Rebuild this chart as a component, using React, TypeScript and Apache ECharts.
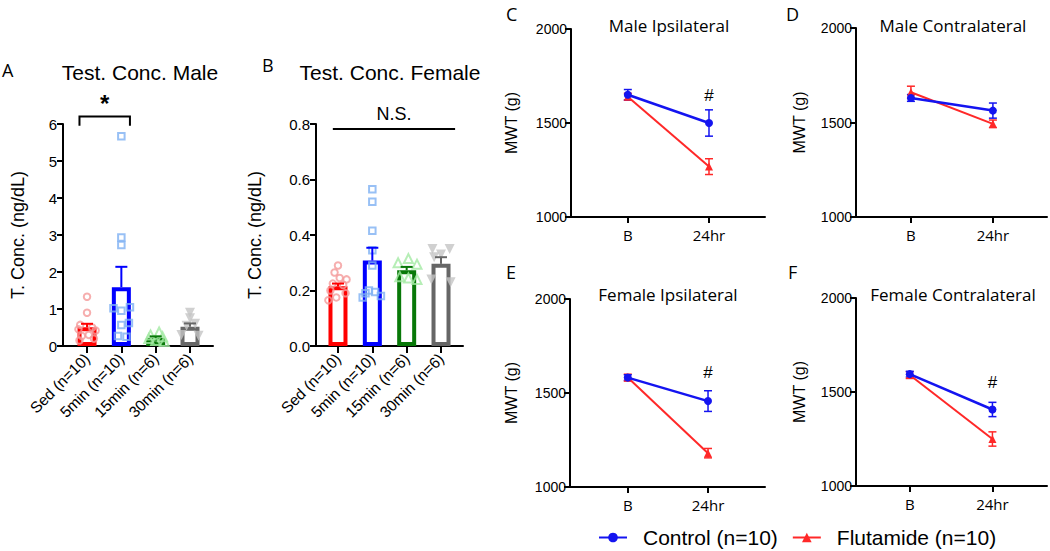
import React, { useEffect, useRef } from "react";
import * as echarts from "echarts";

// ---------- data: testosterone concentration ----------
const groups = ["Sed (n=10)", "5min (n=10)", "15min (n=6)", "30min (n=6)"];
const maleMeans = [0.51, 1.59, 0.22, 0.52];
const maleSem = [0.09, 0.55, 0.04, 0.09];
const femaleMeans = [0.215, 0.308, 0.273, 0.296];
const femaleSem = [0.01, 0.046, 0.012, 0.024];

const maleSed = [1.33, 0.9, 0.57, 0.5, 0.45, 0.42, 0.3, 0.27, 0.2, 0.15];
const male5 = [5.67, 2.93, 2.73, 1.05, 1.02, 0.95, 0.62, 0.57, 0.27, 0.25];
const male15 = [0.38, 0.3, 0.25, 0.2, 0.15, 0.12];
const male30 = [0.9, 0.75, 0.6, 0.55, 0.3, 0.28];
const femaleSed = [0.29, 0.265, 0.245, 0.24, 0.225, 0.22, 0.2, 0.19, 0.175, 0.165];
const female5 = [0.565, 0.52, 0.415, 0.345, 0.29, 0.2, 0.195, 0.19, 0.18, 0.175];
const female15 = [0.315, 0.3, 0.295, 0.25, 0.245, 0.24];
const female30 = [0.35, 0.35, 0.33, 0.32, 0.24, 0.23];

// horizontal scatter (jitter) of the individual points, in category units
const jitter10a = [0, 0, -0.2, 0.15, -0.25, 0.25, 0.05, -0.15, 0.2, -0.22];
const jitter10b = [0, 0, 0, 0.25, -0.23, 0, 0.22, 0, -0.1, 0.15];
const jitter6a = [0.1, -0.15, 0.2, -0.2, 0, 0.25];
const jitter6b = [0, 0, 0.15, -0.1, -0.25, 0.25];
const jitterF10a = [0, -0.1, 0.05, 0.25, -0.15, 0.15, -0.22, 0.22, -0.05, -0.28];
const jitterF10b = [0, 0, 0, 0, 0, -0.1, 0.08, -0.2, 0.25, -0.28];
const jitterF6a = [0.05, -0.25, 0.3, -0.2, 0.05, 0.3];
const jitterF6b = [-0.25, 0.25, 0, -0.2, -0.28, 0.28];

// ---------- data: MWT ----------
const timepoints = ["B", "24hr"];
const maleIpsiCtrl = [1650, 1500];
const maleIpsiCtrlSem = [28, 70];
const maleIpsiFlut = [1640, 1268];
const maleIpsiFlutSem = [18, 42];
const maleContraCtrl = [1630, 1563];
const maleContraCtrlSem = [18, 40];
const maleContraFlut = [1660, 1493];
const maleContraFlutSem = [32, 20];
const femIpsiCtrl = [1582, 1457];
const femIpsiCtrlSem = [15, 55];
const femIpsiFlut = [1582, 1180];
const femIpsiFlutSem = [18, 25];
const femContraCtrl = [1595, 1407];
const femContraCtrlSem = [15, 38];
const femContraFlut = [1590, 1250];
const femContraFlutSem = [18, 38];

const barColors = ["#ff0000", "#0000ff", "#087808", "#666666"];
const ptColors = ["#f49a9a", "#7eb0f2", "#a4eaa4", "#c4c4c4"];
const CTRL = "Control (n=10)";
const FLUT = "Flutamide (n=10)";
const ctrlColor = "#1414f0";
const flutColor = "#ff2828";

const FONT = "Liberation Sans, Arial, sans-serif";
const FONT2 = "Open Sans, Noto Sans, sans-serif";

function App() {
  const ref = useRef<HTMLDivElement>(null);

  useEffect(() => {
    if (!ref.current) return;
    const chart = echarts.init(ref.current, null, { renderer: "svg" });

    const grids: any[] = [];
    const xAxes: any[] = [];
    const yAxes: any[] = [];
    const series: any[] = [];

    const axisLine = { show: true, onZero: false, lineStyle: { color: "#000", width: 2 } };

    function barPanel(
      idx: number,
      grid: any,
      xMin: number,
      xMax: number,
      yMax: number,
      yInt: number,
      yFmt: (v: number) => string,
      yNameGap: number,
      means: number[],
      sems: number[],
      pts: number[][],
      jit: number[][]
    ) {
      grids.push(grid);
      xAxes.push({
        gridIndex: idx,
        type: "value",
        min: xMin,
        max: xMax,
        axisLine,
        splitLine: { show: false },
        axisTick: { show: true, customValues: [0, 1, 2, 3], length: 7, lineStyle: { color: "#000", width: 2 } },
        axisLabel: {
          customValues: [0, 1, 2, 3],
          formatter: (v: number) => groups[Math.round(v)],
          rotate: 45,
          fontSize: 15.5,
          color: "#000",
          fontFamily: FONT,
          margin: 10,
        },
      });
      yAxes.push({
        gridIndex: idx,
        type: "value",
        min: 0,
        max: yMax,
        interval: yInt,
        name: "T. Conc. (ng/dL)",
        nameLocation: "middle",
        nameGap: yNameGap,
        nameTextStyle: { fontSize: 18, color: "#000", fontFamily: FONT },
        axisLine,
        splitLine: { show: false },
        axisTick: { show: true, length: 6, lineStyle: { color: "#000", width: 2 } },
        axisLabel: { formatter: yFmt, fontSize: 15, color: "#000", fontFamily: FONT, margin: 6 },
      });
      series.push({
        type: "bar",
        xAxisIndex: idx,
        yAxisIndex: idx,
        barWidth: 19,
        z: 2,
        silent: true,
        data: means.map((m, i) => ({
          value: [i, m],
          itemStyle: { color: "rgba(255,255,255,0)", borderColor: barColors[i], borderWidth: 4 },
        })),
      });
      const symbols = ["circle", "rect", "triangle", "triangle"];
      const sizes = [6.5, 6.5, 9, 10];
      pts.forEach((arr, g) => {
        series.push({
          type: "scatter",
          xAxisIndex: idx,
          yAxisIndex: idx,
          symbol: symbols[g],
          symbolSize: sizes[g],
          symbolRotate: g === 3 ? 180 : 0,
          z: 3,
          silent: true,
          itemStyle:
            g === 3
              ? { color: ptColors[g] }
              : { color: "rgba(255,255,255,0)", borderColor: ptColors[g], borderWidth: 2 },
          data: arr.map((v, k) => [g + jit[g][k], v]),
        });
      });
      series.push({
        type: "custom",
        xAxisIndex: idx,
        yAxisIndex: idx,
        z: 4,
        silent: true,
        renderItem: (params: any, api: any) => {
          const x = api.value(0);
          const p0 = api.coord([x, api.value(1)]);
          const p1 = api.coord([x, api.value(2)]);
          const c = barColors[params.dataIndex];
          return {
            type: "group",
            children: [
              { type: "line", shape: { x1: p0[0], y1: p0[1], x2: p1[0], y2: p1[1] }, style: { stroke: c, lineWidth: 2 } },
              { type: "line", shape: { x1: p1[0] - 6, y1: p1[1], x2: p1[0] + 6, y2: p1[1] }, style: { stroke: c, lineWidth: 2 } },
            ],
          };
        },
        data: means.map((m, i) => [i, m, m + sems[i]]),
      });
    }

    barPanel(
      0,
      { left: 63, top: 124, width: 150, height: 222 },
      -0.7,
      3.67,
      6,
      1,
      (v) => String(v),
      36,
      maleMeans,
      maleSem,
      [maleSed, male5, male15, male30],
      [jitter10a, jitter10b, jitter6a, jitter6b]
    );
    barPanel(
      1,
      { left: 316, top: 124, width: 147, height: 222 },
      -0.64,
      3.64,
      0.8,
      0.2,
      (v) => v.toFixed(1),
      52,
      femaleMeans,
      femaleSem,
      [femaleSed, female5, female15, female30],
      [jitterF10a, jitterF10b, jitterF6a, jitterF6b]
    );

    // significance annotations
    series.push({
      type: "custom",
      xAxisIndex: 0,
      yAxisIndex: 0,
      silent: true,
      renderItem: (params: any, api: any) => {
        const a = api.coord([api.value(0), api.value(2)]);
        const b = api.coord([api.value(1), api.value(2)]);
        const d = api.coord([api.value(0), api.value(3)]);
        const t = api.coord([(api.value(0) + api.value(1)) / 2, api.value(4)]);
        return {
          type: "group",
          children: [
            {
              type: "polyline",
              shape: { points: [[a[0], d[1]], a, b, [b[0], d[1]]] },
              style: { stroke: "#000", lineWidth: 2, fill: "none" },
            },
            {
              type: "text",
              style: { text: "*", x: t[0], y: t[1], align: "center", verticalAlign: "middle", fontSize: 24, fontWeight: "bold", fill: "#000", fontFamily: FONT },
            },
          ],
        };
      },
      data: [[-0.22, 1.25, 6.2, 5.95, 6.55]],
    });
    series.push({
      type: "custom",
      xAxisIndex: 1,
      yAxisIndex: 1,
      silent: true,
      renderItem: (params: any, api: any) => {
        const a = api.coord([api.value(0), api.value(2)]);
        const b = api.coord([api.value(1), api.value(2)]);
        const t = api.coord([(api.value(0) + api.value(1)) / 2, api.value(3)]);
        return {
          type: "group",
          children: [
            { type: "line", shape: { x1: a[0], y1: a[1], x2: b[0], y2: b[1] }, style: { stroke: "#000", lineWidth: 2 } },
            {
              type: "text",
              style: { text: "N.S.", x: t[0], y: t[1], align: "center", verticalAlign: "middle", fontSize: 18, fill: "#000", fontFamily: FONT },
            },
          ],
        };
      },
      data: [[-0.15, 3.41, 0.782, 0.835]],
    });

    function linePanel(
      idx: number,
      grid: any,
      xMin: number,
      xMax: number,
      nameGap: number,
      ctrl: number[],
      ctrlSem: number[],
      flut: number[],
      flutSem: number[],
      hashY: number | null
    ) {
      grids.push(grid);
      xAxes.push({
        gridIndex: idx,
        type: "value",
        min: xMin,
        max: xMax,
        axisLine,
        splitLine: { show: false },
        axisTick: { show: true, customValues: [0, 1], length: 6, lineStyle: { color: "#000", width: 2 } },
        axisLabel: {
          customValues: [0, 1],
          formatter: (v: number) => timepoints[Math.round(v)],
          fontSize: 15,
          color: "#000",
          fontFamily: FONT2,
          margin: 10,
        },
      });
      yAxes.push({
        gridIndex: idx,
        type: "value",
        min: 1000,
        max: 2000,
        interval: 500,
        name: "MWT (g)",
        nameLocation: "middle",
        nameGap,
        nameTextStyle: { fontSize: 16, color: "#000", fontFamily: FONT },
        axisLine,
        splitLine: { show: false },
        axisTick: { show: true, length: 6, lineStyle: { color: "#000", width: 2 } },
        axisLabel: { formatter: (v: number) => String(v), fontSize: 14, color: "#000", fontFamily: FONT, margin: 4 },
      });
      const errSeries = (vals: number[], sems: number[], color: string) => ({
        type: "custom",
        xAxisIndex: idx,
        yAxisIndex: idx,
        silent: true,
        z: 3,
        renderItem: (params: any, api: any) => {
          const x = api.value(0);
          const lo = api.coord([x, api.value(1)]);
          const hi = api.coord([x, api.value(2)]);
          return {
            type: "group",
            children: [
              { type: "line", shape: { x1: lo[0], y1: lo[1], x2: hi[0], y2: hi[1] }, style: { stroke: color, lineWidth: 1.5 } },
              { type: "line", shape: { x1: lo[0] - 4, y1: lo[1], x2: lo[0] + 4, y2: lo[1] }, style: { stroke: color, lineWidth: 1.5 } },
              { type: "line", shape: { x1: hi[0] - 4, y1: hi[1], x2: hi[0] + 4, y2: hi[1] }, style: { stroke: color, lineWidth: 1.5 } },
            ],
          };
        },
        data: vals.map((v, i) => [i, v - sems[i], v + sems[i]]),
      });
      series.push(errSeries(flut, flutSem, flutColor));
      series.push({
        type: "line",
        name: FLUT,
        xAxisIndex: idx,
        yAxisIndex: idx,
        symbol: "triangle",
        symbolSize: 8,
        z: 3,
        lineStyle: { color: flutColor, width: 2 },
        itemStyle: { color: flutColor },
        data: flut.map((v, i) => [i, v]),
      });
      series.push(errSeries(ctrl, ctrlSem, ctrlColor));
      series.push({
        type: "line",
        name: CTRL,
        xAxisIndex: idx,
        yAxisIndex: idx,
        symbol: "circle",
        symbolSize: 8,
        z: 4,
        lineStyle: { color: ctrlColor, width: 2.5 },
        itemStyle: { color: ctrlColor },
        data: ctrl.map((v, i) => [i, v]),
      });
      if (hashY !== null) {
        series.push({
          type: "custom",
          xAxisIndex: idx,
          yAxisIndex: idx,
          silent: true,
          renderItem: (params: any, api: any) => {
            const p = api.coord([api.value(0), api.value(1)]);
            return {
              type: "text",
              style: { text: "#", x: p[0], y: p[1], align: "center", verticalAlign: "middle", fontSize: 17, fill: "#000", fontFamily: FONT },
            };
          },
          data: [[1, hashY]],
        });
      }
    }

    linePanel(2, { left: 571, top: 29, width: 194, height: 188 }, -0.7, 1.69, 52, maleIpsiCtrl, maleIpsiCtrlSem, maleIpsiFlut, maleIpsiFlutSem, 1645);
    linePanel(3, { left: 856, top: 28, width: 191, height: 189 }, -0.67, 1.66, 49, maleContraCtrl, maleContraCtrlSem, maleContraFlut, maleContraFlutSem, null);
    linePanel(4, { left: 570, top: 299, width: 195, height: 188 }, -0.72, 1.71, 51, femIpsiCtrl, femIpsiCtrlSem, femIpsiFlut, femIpsiFlutSem, 1610);
    linePanel(5, { left: 856, top: 298, width: 191, height: 188 }, -0.65, 1.66, 49, femContraCtrl, femContraCtrlSem, femContraFlut, femContraFlutSem, 1550);

    const txt = (text: string, x: number, y: number, size: number, family: string, align = "left") => ({
      type: "text",
      x,
      y,
      style: { text, fontSize: size, fontFamily: family, fill: "#000", align, verticalAlign: "middle" },
      silent: true,
    });

    chart.setOption({
      animation: false,
      backgroundColor: "#fff",
      grid: grids,
      xAxis: xAxes,
      yAxis: yAxes,
      series,
      legend: {
        data: [CTRL, FLUT],
        left: 598,
        top: 527,
        padding: 0,
        itemWidth: 28,
        itemHeight: 12,
        itemGap: 14,
        textStyle: { fontSize: 21, color: "#000", fontFamily: FONT, padding: [0, 0, 0, 11] },
        selectedMode: false,
      },
      graphic: [
        txt("A", 2, 70, 18, FONT2),
        txt("Test. Conc. Male", 140, 72, 21, FONT, "center"),
        txt("B", 262, 65, 18, FONT2),
        txt("Test. Conc. Female", 390, 72, 21, FONT, "center"),
        txt("C", 506, 14, 18, FONT2),
        txt("Male Ipsilateral", 669, 25, 17, FONT2, "center"),
        txt("D", 786, 14, 18, FONT2),
        txt("Male Contralateral", 953, 25, 17, FONT2, "center"),
        txt("E", 506, 272, 18, FONT2),
        txt("Female Ipsilateral", 668, 294, 17, FONT2, "center"),
        txt("F", 788, 272, 18, FONT2),
        txt("Female Contralateral", 953, 294, 17, FONT2, "center"),
      ],
    });

    return () => chart.dispose();
  }, []);

  return (
    <div
      ref={ref}
      style={{ position: "fixed", left: 0, top: 0, width: 1050, height: 551, background: "#fff" }}
    />
  );
}

export default App;
